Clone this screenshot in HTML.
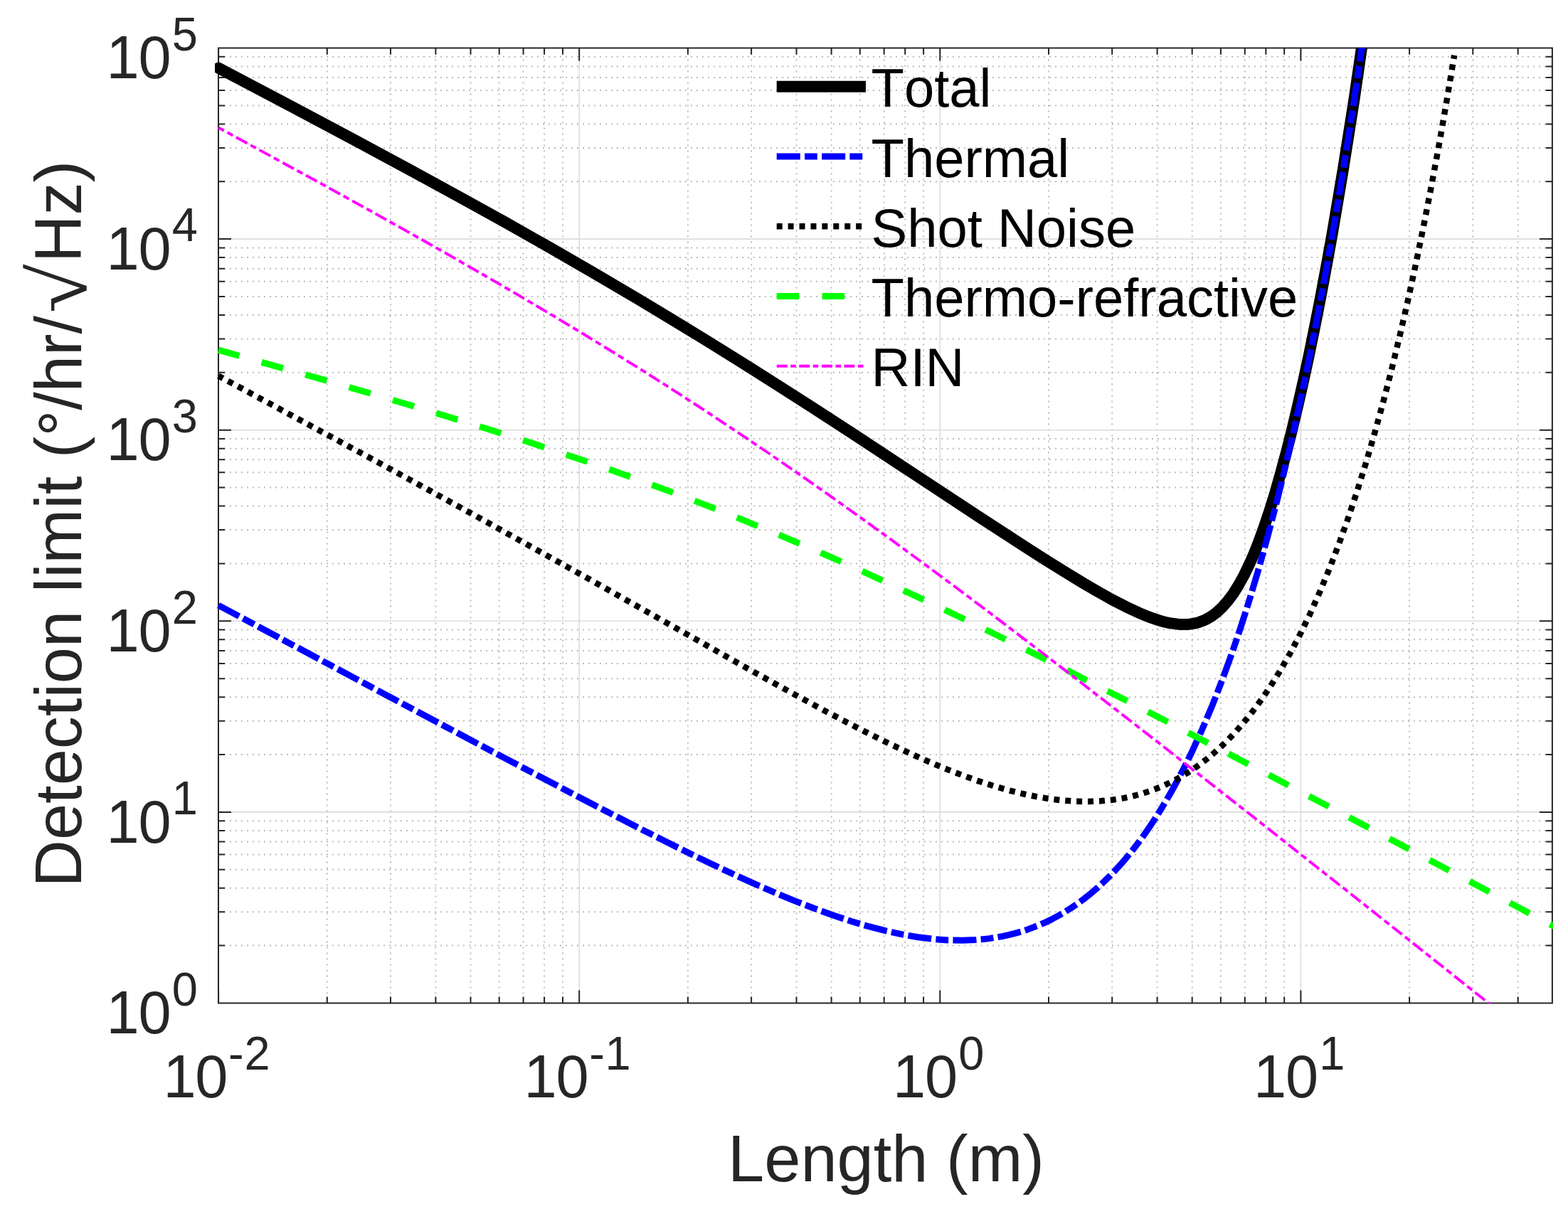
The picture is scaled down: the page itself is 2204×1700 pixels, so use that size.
<!DOCTYPE html>
<html><head><meta charset="utf-8"><title>Detection limit vs Length</title>
<style>html,body{margin:0;padding:0;background:#fff;}svg{display:block;}text{font-kerning:none;}</style></head><body>
<svg xmlns="http://www.w3.org/2000/svg" width="2204" height="1700" viewBox="0 0 2204 1700">
<rect x="0" y="0" width="2204" height="1700" fill="#fff"/>
<defs><clipPath id="ax"><rect x="302" y="67.0" width="1880.9" height="1343.8"/></clipPath></defs>
<path d="M459.8 67.6V1410.6M549.0 67.6V1410.6M612.4 67.6V1410.6M661.5 67.6V1410.6M701.7 67.6V1410.6M735.6 67.6V1410.6M765.1 67.6V1410.6M791.0 67.6V1410.6M966.9 67.6V1410.6M1056.1 67.6V1410.6M1119.5 67.6V1410.6M1168.6 67.6V1410.6M1208.8 67.6V1410.6M1242.7 67.6V1410.6M1272.2 67.6V1410.6M1298.1 67.6V1410.6M1474.0 67.6V1410.6M1563.2 67.6V1410.6M1626.6 67.6V1410.6M1675.7 67.6V1410.6M1715.9 67.6V1410.6M1749.8 67.6V1410.6M1779.3 67.6V1410.6M1805.2 67.6V1410.6M1981.1 67.6V1410.6M2070.3 67.6V1410.6M2133.7 67.6V1410.6M307.0 1329.6H2181.9M307.0 1282.3H2181.9M307.0 1248.8H2181.9M307.0 1222.8H2181.9M307.0 1201.5H2181.9M307.0 1183.5H2181.9M307.0 1167.9H2181.9M307.0 1154.2H2181.9M307.0 1061.0H2181.9M307.0 1013.7H2181.9M307.0 980.2H2181.9M307.0 954.2H2181.9M307.0 932.9H2181.9M307.0 914.9H2181.9M307.0 899.3H2181.9M307.0 885.6H2181.9M307.0 792.4H2181.9M307.0 745.1H2181.9M307.0 711.6H2181.9M307.0 685.6H2181.9M307.0 664.3H2181.9M307.0 646.3H2181.9M307.0 630.7H2181.9M307.0 617.0H2181.9M307.0 523.8H2181.9M307.0 476.5H2181.9M307.0 443.0H2181.9M307.0 417.0H2181.9M307.0 395.7H2181.9M307.0 377.7H2181.9M307.0 362.1H2181.9M307.0 348.4H2181.9M307.0 255.2H2181.9M307.0 207.9H2181.9M307.0 174.4H2181.9M307.0 148.4H2181.9M307.0 127.1H2181.9M307.0 109.1H2181.9M307.0 93.5H2181.9M307.0 79.8H2181.9" stroke="#bcbcbc" stroke-width="2" stroke-dasharray="2 6" fill="none"/>
<path d="M814.2 67.6V1410.6M1321.3 67.6V1410.6M1828.4 67.6V1410.6M307.0 1141.9H2181.9M307.0 873.3H2181.9M307.0 604.7H2181.9M307.0 336.1H2181.9" stroke="#dcdcdc" stroke-width="1.6" fill="none"/>
<path d="M307.0 67.6H2181.9V1410.6H307.0ZM307.1 1410.6v-18M307.1 67.6v18M814.2 1410.6v-18M814.2 67.6v18M1321.3 1410.6v-18M1321.3 67.6v18M1828.4 1410.6v-18M1828.4 67.6v18M459.8 1410.6v-9M459.8 67.6v9M549.0 1410.6v-9M549.0 67.6v9M612.4 1410.6v-9M612.4 67.6v9M661.5 1410.6v-9M661.5 67.6v9M701.7 1410.6v-9M701.7 67.6v9M735.6 1410.6v-9M735.6 67.6v9M765.1 1410.6v-9M765.1 67.6v9M791.0 1410.6v-9M791.0 67.6v9M966.9 1410.6v-9M966.9 67.6v9M1056.1 1410.6v-9M1056.1 67.6v9M1119.5 1410.6v-9M1119.5 67.6v9M1168.6 1410.6v-9M1168.6 67.6v9M1208.8 1410.6v-9M1208.8 67.6v9M1242.7 1410.6v-9M1242.7 67.6v9M1272.2 1410.6v-9M1272.2 67.6v9M1298.1 1410.6v-9M1298.1 67.6v9M1474.0 1410.6v-9M1474.0 67.6v9M1563.2 1410.6v-9M1563.2 67.6v9M1626.6 1410.6v-9M1626.6 67.6v9M1675.7 1410.6v-9M1675.7 67.6v9M1715.9 1410.6v-9M1715.9 67.6v9M1749.8 1410.6v-9M1749.8 67.6v9M1779.3 1410.6v-9M1779.3 67.6v9M1805.2 1410.6v-9M1805.2 67.6v9M1981.1 1410.6v-9M1981.1 67.6v9M2070.3 1410.6v-9M2070.3 67.6v9M2133.7 1410.6v-9M2133.7 67.6v9M307.0 1410.5h18M2181.9 1410.5h-18M307.0 1141.9h18M2181.9 1141.9h-18M307.0 873.3h18M2181.9 873.3h-18M307.0 604.7h18M2181.9 604.7h-18M307.0 336.1h18M2181.9 336.1h-18M307.0 67.5h18M2181.9 67.5h-18M307.0 1329.6h9M2181.9 1329.6h-9M307.0 1282.3h9M2181.9 1282.3h-9M307.0 1248.8h9M2181.9 1248.8h-9M307.0 1222.8h9M2181.9 1222.8h-9M307.0 1201.5h9M2181.9 1201.5h-9M307.0 1183.5h9M2181.9 1183.5h-9M307.0 1167.9h9M2181.9 1167.9h-9M307.0 1154.2h9M2181.9 1154.2h-9M307.0 1061.0h9M2181.9 1061.0h-9M307.0 1013.7h9M2181.9 1013.7h-9M307.0 980.2h9M2181.9 980.2h-9M307.0 954.2h9M2181.9 954.2h-9M307.0 932.9h9M2181.9 932.9h-9M307.0 914.9h9M2181.9 914.9h-9M307.0 899.3h9M2181.9 899.3h-9M307.0 885.6h9M2181.9 885.6h-9M307.0 792.4h9M2181.9 792.4h-9M307.0 745.1h9M2181.9 745.1h-9M307.0 711.6h9M2181.9 711.6h-9M307.0 685.6h9M2181.9 685.6h-9M307.0 664.3h9M2181.9 664.3h-9M307.0 646.3h9M2181.9 646.3h-9M307.0 630.7h9M2181.9 630.7h-9M307.0 617.0h9M2181.9 617.0h-9M307.0 523.8h9M2181.9 523.8h-9M307.0 476.5h9M2181.9 476.5h-9M307.0 443.0h9M2181.9 443.0h-9M307.0 417.0h9M2181.9 417.0h-9M307.0 395.7h9M2181.9 395.7h-9M307.0 377.7h9M2181.9 377.7h-9M307.0 362.1h9M2181.9 362.1h-9M307.0 348.4h9M2181.9 348.4h-9M307.0 255.2h9M2181.9 255.2h-9M307.0 207.9h9M2181.9 207.9h-9M307.0 174.4h9M2181.9 174.4h-9M307.0 148.4h9M2181.9 148.4h-9M307.0 127.1h9M2181.9 127.1h-9M307.0 109.1h9M2181.9 109.1h-9M307.0 93.5h9M2181.9 93.5h-9M307.0 79.8h9M2181.9 79.8h-9" stroke="#262626" stroke-width="2" fill="none"/>
<g clip-path="url(#ax)" fill="none" stroke-linejoin="round">
<path d="M307.1 95.6 L408.1 148.8 L495.0 195.1 L572.9 237.1 L644.5 276.2 L711.0 313.1 L774.9 349.3 L836.2 384.7 L895.0 419.3 L942.3 447.8 L990.9 477.5 L1039.5 507.7 L1089.3 539.2 L1141.7 572.8 L1197.9 609.3 L1376.9 727.2 L1435.7 765.5 L1467.6 786.0 L1494.5 802.8 L1518.8 817.6 L1540.5 830.4 L1562.2 842.6 L1582.7 853.2 L1600.6 861.6 L1615.9 867.9 L1630.0 872.6 L1637.6 874.7 L1644.0 876.1 L1655.5 877.7 L1661.9 878.1 L1667.0 878.0 L1672.1 877.7 L1677.2 876.9 L1682.4 875.8 L1686.2 874.6 L1691.3 872.7 L1695.1 871.0 L1702.8 866.6 L1710.5 860.9 L1718.1 853.7 L1725.8 845.0 L1733.5 834.7 L1741.1 822.5 L1748.8 808.5 L1756.5 792.6 L1762.9 777.9 L1769.3 761.8 L1776.9 740.8 L1784.6 717.8 L1792.3 693.0 L1799.9 666.3 L1807.6 637.9 L1815.3 607.7 L1824.2 570.3 L1831.9 536.5 L1839.6 500.9 L1848.5 457.4 L1856.2 418.3 L1865.1 370.6 L1872.8 327.8 L1888.1 237.2 L1903.5 139.4 L1918.8 34.1" stroke="#000000" stroke-width="16" stroke-linecap="round"/>
<path d="M307.1 851.1 L547.4 979.7 L700.8 1061.4 L810.7 1119.3 L895.0 1162.8 L934.7 1182.8 L970.4 1200.5 L1003.7 1216.5 L1034.3 1230.9 L1063.7 1244.2 L1091.9 1256.3 L1117.4 1266.9 L1143.0 1276.8 L1171.1 1287.0 L1196.7 1295.5 L1221.0 1302.7 L1245.2 1308.9 L1268.2 1313.9 L1290.0 1317.7 L1311.7 1320.4 L1332.2 1321.9 L1352.6 1322.3 L1371.8 1321.5 L1382.0 1320.6 L1390.9 1319.6 L1408.8 1316.6 L1417.8 1314.7 L1426.7 1312.4 L1435.7 1309.9 L1444.6 1306.9 L1461.2 1300.6 L1470.2 1296.6 L1477.9 1292.9 L1488.1 1287.4 L1497.0 1282.2 L1506.0 1276.5 L1514.9 1270.4 L1523.9 1263.8 L1532.8 1256.7 L1541.8 1249.0 L1550.7 1240.8 L1559.7 1232.1 L1567.3 1224.1 L1576.3 1214.3 L1583.9 1205.3 L1592.9 1194.3 L1600.6 1184.3 L1608.2 1173.8 L1615.9 1162.7 L1623.6 1151.1 L1631.2 1139.0 L1638.9 1126.3 L1646.6 1112.9 L1654.2 1099.0 L1661.9 1084.4 L1676.0 1055.9 L1690.0 1025.0 L1704.1 991.7 L1718.1 955.7 L1730.9 920.5 L1743.7 882.8 L1756.5 842.6 L1769.3 799.6 L1782.0 753.8 L1794.8 704.9 L1806.3 658.1 L1819.1 603.0 L1830.6 550.3 L1842.1 494.7 L1853.6 435.8 L1865.1 373.7 L1876.6 308.0 L1888.1 238.7 L1898.4 173.9 L1908.6 106.0 L1918.8 34.7" stroke="#0000ff" stroke-width="9" stroke-dasharray="33.1 6.2 17.9 6.2" stroke-dashoffset="0.2" stroke-linecap="butt"/>
<path d="M307.1 528.5 L515.4 641.3 L603.1 689.3 L684.7 734.3 L823.0 811.4 L1045.3 936.9 L1117.8 977.1 L1164.1 1002.0 L1205.5 1023.6 L1243.2 1042.4 L1278.0 1058.8 L1303.5 1070.2 L1327.9 1080.5 L1351.7 1089.7 L1374.2 1097.9 L1396.1 1105.0 L1416.8 1111.0 L1436.9 1116.0 L1456.4 1120.1 L1475.3 1123.3 L1494.2 1125.5 L1512.5 1126.8 L1530.1 1127.0 L1547.2 1126.3 L1563.6 1124.7 L1580.1 1122.1 L1595.9 1118.5 L1605.6 1115.8 L1615.4 1112.6 L1625.1 1109.0 L1634.3 1105.2 L1643.4 1101.0 L1652.5 1096.4 L1661.7 1091.2 L1670.2 1086.0 L1678.7 1080.4 L1687.3 1074.2 L1695.8 1067.7 L1704.3 1060.6 L1712.8 1053.1 L1720.8 1045.6 L1729.3 1037.0 L1737.2 1028.5 L1745.1 1019.5 L1753.0 1010.0 L1761.0 1000.0 L1768.9 989.4 L1776.8 978.3 L1784.1 967.5 L1798.7 944.2 L1813.3 918.8 L1827.3 892.2 L1841.4 863.3 L1854.7 833.3 L1868.1 801.0 L1881.5 766.2 L1894.3 730.5 L1907.1 692.2 L1919.9 651.2 L1932.1 609.5 L1944.3 565.1 L1955.9 520.3 L1967.4 472.7 L1979.0 422.3 L1990.6 368.9 L2001.5 315.4 L2012.5 258.9 L2023.5 199.3 L2033.8 140.0 L2044.2 77.7" stroke="#000000" stroke-width="8.5" stroke-dasharray="8 7.924" stroke-dashoffset="0.86" stroke-linecap="butt"/>
<path d="M307.1 492.1 L453.7 533.7 L517.6 552.3 L576.5 569.7 L631.6 586.5 L684.2 602.8 L734.3 618.8 L781.9 634.5 L828.3 650.2 L873.4 666.0 L917.2 681.9 L961.1 698.3 L1003.7 714.8 L1046.2 731.9 L1088.8 749.4 L1132.7 768.1 L1175.3 786.7 L1217.9 805.9 L1261.7 826.1 L1308.1 847.9 L1355.7 870.8 L1404.5 894.7 L1457.2 920.9 L1512.3 948.7 L1632.6 1010.5 L1774.1 1084.6 L1949.5 1177.4 L2185.0 1302.9" stroke="#00ff00" stroke-width="9" stroke-dasharray="31.5 32.423" stroke-dashoffset="0.92" stroke-linecap="butt"/>
<path d="M307.1 179.5 L449.9 257.4 L512.6 292.0 L571.4 324.9 L626.6 356.0 L677.9 385.5 L726.8 413.9 L774.4 442.1 L820.7 470.0 L865.8 497.7 L909.7 525.1 L952.3 552.3 L994.9 580.0 L1037.5 608.3 L1080.1 637.0 L1122.7 666.4 L1165.3 696.2 L1207.9 726.5 L1251.7 758.2 L1298.1 792.2 L1345.7 827.5 L1395.8 865.2 L1448.4 905.2 L1503.5 947.4 L1623.8 1040.7 L1767.9 1153.6 L1945.8 1294.2 L2185.0 1484.1" stroke="#ff00ff" stroke-width="3.9" stroke-dasharray="17.8 5.3 8.8 5.3" stroke-dashoffset="8.9" stroke-linecap="butt"/>
</g>
<g transform="translate(0 1453.1) scale(1 1.035)"><text y="0" font-family="Liberation Sans, Arial, Helvetica, sans-serif" font-size="83" fill="#262626"><tspan x="149.6">1</tspan><tspan x="194.5">0</tspan><tspan x="241.8" y="-38" font-size="65">0</tspan></text></g>
<g transform="translate(0 1184.5) scale(1 1.035)"><text y="0" font-family="Liberation Sans, Arial, Helvetica, sans-serif" font-size="83" fill="#262626"><tspan x="149.6">1</tspan><tspan x="194.5">0</tspan><tspan x="241.8" y="-38" font-size="65">1</tspan></text></g>
<g transform="translate(0 915.9) scale(1 1.035)"><text y="0" font-family="Liberation Sans, Arial, Helvetica, sans-serif" font-size="83" fill="#262626"><tspan x="149.6">1</tspan><tspan x="194.5">0</tspan><tspan x="241.8" y="-38" font-size="65">2</tspan></text></g>
<g transform="translate(0 647.3) scale(1 1.035)"><text y="0" font-family="Liberation Sans, Arial, Helvetica, sans-serif" font-size="83" fill="#262626"><tspan x="149.6">1</tspan><tspan x="194.5">0</tspan><tspan x="241.8" y="-38" font-size="65">3</tspan></text></g>
<g transform="translate(0 378.7) scale(1 1.035)"><text y="0" font-family="Liberation Sans, Arial, Helvetica, sans-serif" font-size="83" fill="#262626"><tspan x="149.6">1</tspan><tspan x="194.5">0</tspan><tspan x="241.8" y="-38" font-size="65">4</tspan></text></g>
<g transform="translate(0 110.1) scale(1 1.035)"><text y="0" font-family="Liberation Sans, Arial, Helvetica, sans-serif" font-size="83" fill="#262626"><tspan x="149.6">1</tspan><tspan x="194.5">0</tspan><tspan x="241.8" y="-38" font-size="65">5</tspan></text></g>
<g transform="translate(0 1543.0) scale(1 1.035)"><text y="0" font-family="Liberation Sans, Arial, Helvetica, sans-serif" font-size="83" fill="#262626"><tspan x="229.4">1</tspan><tspan x="274.3">0</tspan><tspan x="321.1" y="-38" font-size="65">-</tspan><tspan x="343.5" font-size="65">2</tspan></text></g>
<g transform="translate(0 1543.0) scale(1 1.035)"><text y="0" font-family="Liberation Sans, Arial, Helvetica, sans-serif" font-size="83" fill="#262626"><tspan x="736.5">1</tspan><tspan x="781.4">0</tspan><tspan x="828.2" y="-38" font-size="65">-</tspan><tspan x="850.6" font-size="65">1</tspan></text></g>
<g transform="translate(0 1543.0) scale(1 1.035)"><text y="0" font-family="Liberation Sans, Arial, Helvetica, sans-serif" font-size="83" fill="#262626"><tspan x="1255.0">1</tspan><tspan x="1299.9">0</tspan><tspan x="1347.2" y="-38" font-size="65">0</tspan></text></g>
<g transform="translate(0 1543.0) scale(1 1.035)"><text y="0" font-family="Liberation Sans, Arial, Helvetica, sans-serif" font-size="83" fill="#262626"><tspan x="1762.1">1</tspan><tspan x="1807.0">0</tspan><tspan x="1854.3" y="-38" font-size="65">1</tspan></text></g>
<text x="1245.5" y="1660.7" font-family="Liberation Sans, Arial, Helvetica, sans-serif" font-size="92" fill="#262626" text-anchor="middle">Length (m)</text>
<g transform="translate(114 1240) rotate(-90)">
<text x="-7.5" y="0" font-family="Liberation Sans, Arial, Helvetica, sans-serif" font-size="92" fill="#262626">Detection limit (<tspan dy="5">&#176;</tspan><tspan dy="-5">/hr/</tspan></text>
<text x="0" y="0" transform="translate(800 6.8) scale(1.115 1)" font-family="Liberation Serif, DejaVu Serif, serif" font-size="112" fill="#262626">&#8730;</text>
<text x="871" y="0" font-family="Liberation Sans, Arial, Helvetica, sans-serif" font-size="92" fill="#262626">Hz)</text>
</g>
<path d="M1091.7 121.7H1217" stroke="#000000" stroke-width="16" stroke-linecap="butt" fill="none"/>
<text x="1224.5" y="150.3" font-family="Liberation Sans, Arial, Helvetica, sans-serif" font-size="76" fill="#000">Total</text>
<path d="M1091.7 220.0H1214" stroke="#0000ff" stroke-width="9" stroke-dasharray="33.1 6.2 17.9 6.2" stroke-linecap="butt" fill="none"/>
<text x="1224.5" y="248.6" font-family="Liberation Sans, Arial, Helvetica, sans-serif" font-size="76" fill="#000">Thermal</text>
<path d="M1091.7 318.2H1217" stroke="#000000" stroke-width="8.5" stroke-dasharray="8 7.924" stroke-linecap="butt" fill="none"/>
<text x="1224.5" y="346.8" font-family="Liberation Sans, Arial, Helvetica, sans-serif" font-size="76" fill="#000">Shot Noise</text>
<path d="M1091.7 416.5H1215" stroke="#00ff00" stroke-width="9" stroke-dasharray="31.5 32.423" stroke-linecap="butt" fill="none"/>
<text x="1224.5" y="445.1" font-family="Liberation Sans, Arial, Helvetica, sans-serif" font-size="76" fill="#000">Thermo-refractive</text>
<path d="M1091.7 514.8H1217" stroke="#ff00ff" stroke-width="3.9" stroke-dasharray="15 4.5 7.6 4.5" stroke-linecap="butt" fill="none"/>
<text x="1224.5" y="543.4" font-family="Liberation Sans, Arial, Helvetica, sans-serif" font-size="76" fill="#000">RIN</text>
</svg></body></html>
